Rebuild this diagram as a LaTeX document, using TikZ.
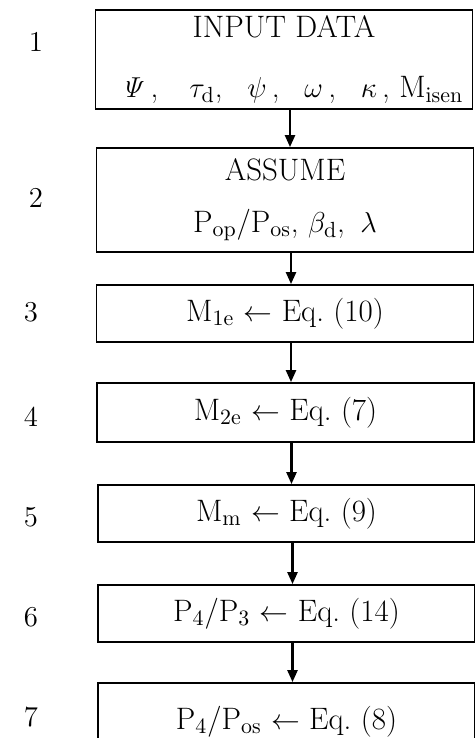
\documentclass[tikz,border=0pt]{standalone}
\usepackage{amsmath,amssymb}
\usetikzlibrary{arrows.meta}

\begin{document}
\begin{tikzpicture}[every node/.style={font=\fontsize{15.5}{17}\selectfont}, >={Triangle[length=6pt,width=5pt]}, x=0.5pt, y=-0.5pt,
	stepbox/.style={draw, line width=0.9pt, minimum width=188.5pt, align=center, inner sep=0pt},
	flow/.style={->, line width=1.2pt}]
	\useasboundingbox (0,0) rectangle (475,738);
	\clip (0,0) rectangle (475,738);
	\foreach \i/\x/\y in {1/36/42, 2/36/198, 3/31/312, 4/31/417, 5/31/517, 6/31/617, 7/31/717} {
		\node (n\i) at (\x,\y) {$\i$};
	}
	\node[stepbox, minimum height=49.5pt] (input) at (284,59.5) {INPUT DATA\\[13pt] \hspace*{8pt}$\mathit{\Psi}$\,,\hspace{1em}$\tau_{\mathrm{d}}$,\hspace{0.8em}$\psi$\,,\hspace{0.8em}$\omega$\,,\hspace{0.8em}$\kappa$\,, M$_{\mathrm{isen}}$};
	\node[stepbox, minimum height=52pt] (assume) at (285,200) {ASSUME\\[9pt] P$_{\mathrm{op}}$/P$_{\mathrm{os}}$, $\beta_{\mathrm{d}}$,\enspace$\lambda$};
	\node[stepbox, minimum height=28.5pt] (m1e) at (285,313.5) {M$_{\mathrm{1e}}$ $\leftarrow$ Eq.\ (10)};
	\node[stepbox, minimum height=29.5pt] (m2e) at (285.5,412.5) {M$_{\mathrm{2e}}$ $\leftarrow$ Eq.\ (7)};
	\node[stepbox, minimum height=28.5pt] (mm) at (286.5,513.5) {M$_{\mathrm{m}}$ $\leftarrow$ Eq.\ (9)};
	\node[stepbox, minimum height=28.5pt] (p43) at (286.5,613.5) {P$_4$/P$_3$ $\leftarrow$ Eq.\ (14)};
	\node[stepbox, minimum height=38.5pt] (p4os) at (286.5,721.5) {P$_4$/P$_{\mathrm{os}}$ $\leftarrow$ Eq.\ (8)};
	% arrows sit a little right of the box centres
	\draw[flow] ([xshift=3pt]input.south) -- ([xshift=3pt]input.south |- assume.north);
	\foreach \a/\b in {assume/m1e, m1e/m2e, m2e/mm, mm/p43, p43/p4os} {
		\draw[flow] ([xshift=3pt]\a.south) -- ([xshift=3pt]\a.south |- \b.north);
	}
\end{tikzpicture}
\end{document}
